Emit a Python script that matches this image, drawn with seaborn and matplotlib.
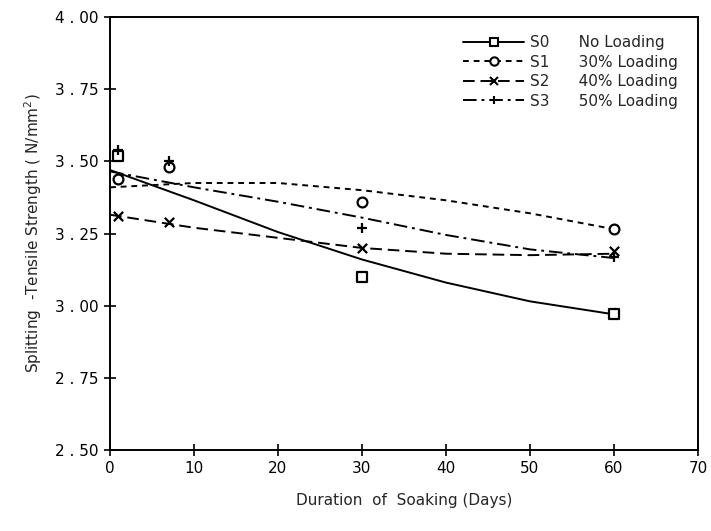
import matplotlib
matplotlib.use("Agg")
import matplotlib.pyplot as plt
from matplotlib.lines import Line2D
import seaborn as sns
import pandas as pd
import numpy as np

# measured points
days = [1, 7, 30, 60]
s0 = [3.52, np.nan, 3.10, 2.97]
s1 = [3.44, 3.48, 3.36, 3.265]
s2 = [3.31, 3.29, 3.20, 3.19]
s3 = [3.54, 3.50, 3.27, 3.17]

# trend curves
curve_days = [0, 10, 20, 30, 40, 50, 60]
s0_curve = [3.47, 3.365, 3.255, 3.16, 3.08, 3.015, 2.97]
s1_curve = [3.41, 3.425, 3.425, 3.40, 3.365, 3.32, 3.265]
s2_curve = [3.315, 3.27, 3.235, 3.20, 3.18, 3.175, 3.18]
s3_curve = [3.465, 3.41, 3.36, 3.305, 3.245, 3.195, 3.165]

codes = ["S0", "S1", "S2", "S3"]
names = ["No Loading", "30% Loading", "40% Loading", "50% Loading"]
xticks = [0, 10, 20, 30, 40, 50, 60, 70]
yticks = [2.50, 2.75, 3.00, 3.25, 3.50, 3.75, 4.00]

sns.set_style("ticks")
plt.rcParams["font.family"] = ["DejaVu Sans"]

fig = plt.figure(figsize=(7.11, 5.31), dpi=100)
ax = fig.add_axes([0.1547, 0.1525, 0.827, 0.8155])

series = [s0, s1, s2, s3]
curves = [s0_curve, s1_curve, s2_curve, s3_curve]
markers = ["s", "o", "x", "+"]
styles = ["-", (0, (3, 2.5)), (0, (6, 3)), (0, (7, 2.5, 1.5, 2.5))]

for vals, cur, m, ls in zip(series, curves, markers, styles):
    cdf = pd.DataFrame({"d": curve_days, "v": cur})
    sns.lineplot(data=cdf, x="d", y="v", color="black", lw=1.4,
                 linestyle=ls, ax=ax)
    df = pd.DataFrame({"d": days, "v": vals}).dropna()
    if m in ("x", "+"):
        sns.scatterplot(data=df, x="d", y="v", marker=m, s=45, color="black",
                        linewidth=1.6, ax=ax, zorder=3)
    else:
        sns.scatterplot(data=df, x="d", y="v", marker=m, s=50,
                        facecolor="white", edgecolor="black", linewidth=1.6,
                        ax=ax, zorder=3)

ax.set_xlim(0, 70)
ax.set_ylim(2.5, 4.0)
ax.set_xticks(xticks)
ax.set_yticks(yticks)
ax.set_xticklabels([str(t) for t in xticks], fontsize=11)
ax.set_yticklabels([" . ".join(f"{t:.2f}".split(".")) for t in yticks],
                   fontsize=11)
ax.tick_params(direction="inout", length=9, width=1.2, colors="black")
for sp in ax.spines.values():
    sp.set_visible(True)
    sp.set_linewidth(1.4)
    sp.set_color("black")

ax.set_xlabel("Duration  of  Soaking (Days)", fontsize=11, labelpad=12)
ax.set_ylabel(r"Splitting  -Tensile Strength ( N/mm$^{2}$)", fontsize=11, labelpad=8)

handles = []
for m, ls in zip(markers, styles):
    if m in ("x", "+"):
        h = Line2D([], [], color="black", lw=1.4, linestyle=ls, marker=m,
                   markersize=6, markeredgewidth=1.5)
    else:
        h = Line2D([], [], color="black", lw=1.4, linestyle=ls, marker=m,
                   markersize=6, markerfacecolor="white", markeredgewidth=1.5)
    handles.append(h)
labels = [f"{c}      {n}" for c, n in zip(codes, names)]
ax.legend(handles, labels, loc="upper right", frameon=False, fontsize=11,
          handlelength=4.0, handletextpad=0.4, labelspacing=0.3,
          bbox_to_anchor=(0.99, 0.99))

fig.savefig("out.png", dpi=100)
